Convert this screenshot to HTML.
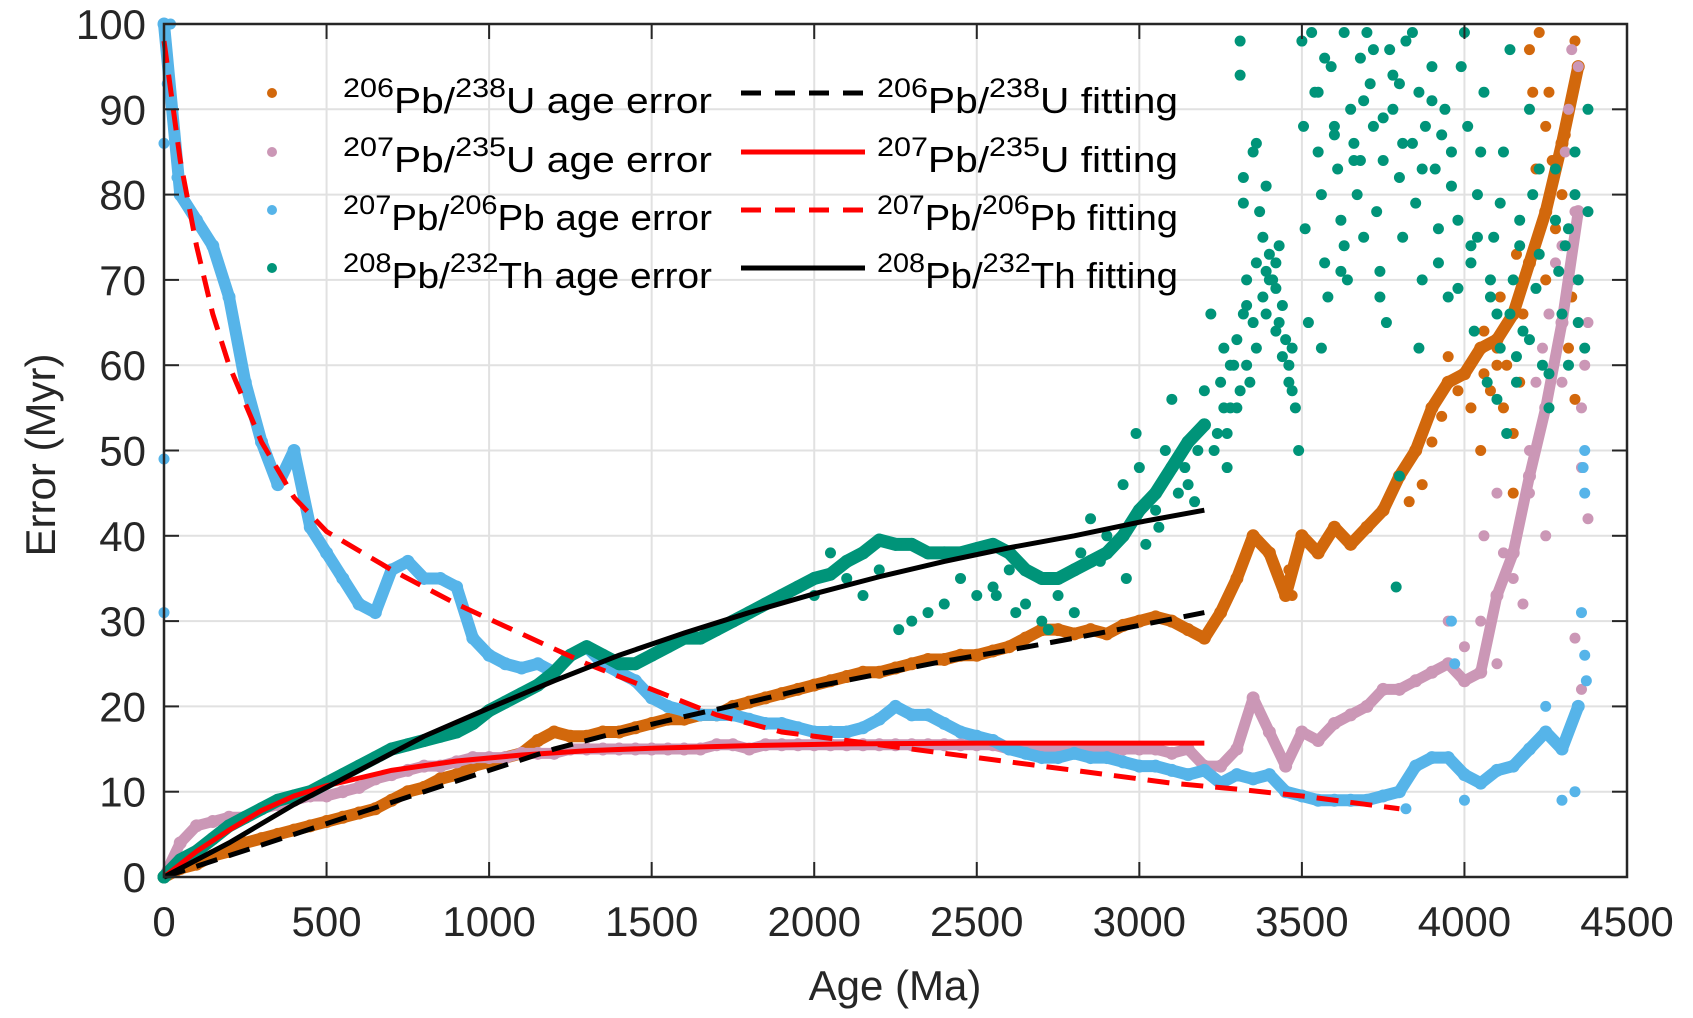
<!DOCTYPE html>
<html><head><meta charset="utf-8"><style>
html,body{margin:0;padding:0;background:#fff;}
svg{display:block;font-family:"Liberation Sans",Arial,sans-serif;}
</style></head><body>
<svg id="chart" width="1693" height="1018" viewBox="0 0 1693 1018" xmlns="http://www.w3.org/2000/svg">
<g id="grid"></g>
<g id="marks"></g>
<g id="axes"></g>
<text x="895" y="1000" font-size="42" text-anchor="middle" fill="#262626">Age (Ma)</text>
<text transform="translate(55,455) rotate(-90)" font-size="42" text-anchor="middle" fill="#262626">Error (Myr)</text>
<g id="legend"></g>
</svg>
<script>
const AGES=[0,50,100,150,200,250,300,350,400,450,500,550,600,650,700,750,800,850,900,950,1000,1050,1100,1150,1200,1250,1300,1350,1400,1450,1500,1550,1600,1650,1700,1750,1800,1850,1900,1950,2000,2050,2100,2150,2200,2250,2300,2350,2400,2450,2500,2550,2600,2650,2700,2750,2800,2850,2900,2950,3000,3050,3100,3150,3200,3250,3300,3350,3400,3450,3500,3550,3600,3650,3700,3750,3800,3850,3900,3950,4000,4050,4100,4150,4200,4250,4300,4350];
const U238=[0,1,1.5,2.5,3,4,4.5,5,5.5,6,6.5,7,7.5,8,9,10,10.5,11.5,12,13,13.5,14,14.5,16,17,16.5,16.5,17,17,17.5,18,18.5,18.5,19,19,20,20.5,21,21.5,22,22.5,23,23.5,24,24,24.5,25,25.5,25.5,26,26,26.5,27,28,29,29,28.5,29,28.5,29.5,30,30.5,30,29,28,31,35,40,38,33,40,38,41,39,41,43,47,50,55,58,59,62,63,66,72,78,86,95];
const U235=[0,4,6,6.5,7,7,8,8.5,9,9.5,9.5,10,10.5,11.5,12,12.5,13,13,13.5,14,14,14,14.5,14.5,14.5,15,15,15,15,15,15,15,15,15,15.5,15.5,15,15.5,15.5,15.5,15.5,15.5,15.5,15.5,15.5,15.5,15.5,15.5,15.5,15.5,15.5,15.5,15,15,15,15,15,15,15,15,15,15,14.5,15,13,13,15,21,17,13,17,16,18,19,20,22,22,23,24,25,23,24,33,38,47,55,65,78];
const PB207=[100,80,77,74,68,58,51,46,50,41,38,35,32,31,36,37,35,35,34,28,26,25,24.5,25,24,26,27,25,24,23,21,20,19.5,19,19,19,18.5,18,18,17.5,17,17,17,17.5,18.5,20,19,19,18,17,16.5,16,15,14.5,14,14,14.5,14,14,13.5,13,13,12.5,12,12.5,11,12,11.5,12,10,9.5,9,9,9,9,9.5,10,13,14,14,12,11,12.5,13,15,17,15,20];
const TH232=[0,2,3,4.5,6,7,8,9,9.5,10,11,12,13,14,15,15.5,16,16.5,17,18,19.5,20.5,21.5,22.5,24,26,27,26,25,25,26,27,28,28,29,30,31,32,33,34,35,35.5,37,38,39.5,39,39,38,38,38,38.5,39,38,36,35,35,36,37,38,40,43,45,48,51,53];
const THX=[3250,3260,3270,3280,3290,3200,3220,3180,3150,3100,3050,3000,2990,2950,2900,2850,2800,2750,2700,2650,2600,2550,2500,2450,2400,2350,2300,2260,2200,2150,2100,2050,2000,3310,3310,3320,3320,3330,3330,3350,3360,3370,3380,3390,3400,3410,3420,3430,3440,3460,3470,3480,3490,3500,3505,3510,3520,3530,3540,3550,3560,3570,3580,3590,3600,3610,3620,3630,3640,3650,3660,3670,3680,3690,3700,3710,3720,3730,3740,3750,3760,3770,3780,3800,3810,3820,3840,3850,3860,3870,3880,3900,3910,3920,3940,3950,3960,3980,4000,4010,4020,4030,4040,4060,4070,4080,4090,4100,4110,4120,4130,4140,4150,4160,4170,4180,4200,4210,4230,4240,4260,4280,4300,4310,4320,4340,4350,4370,4380,4380,3790,3800];
const THY=[58,62,48,55,60,57,66,50,46,56,43,48,52,46,40,42,31,33,30,32,36,34,33,35,32,31,30,29,36,33,35,38,33,98,94,82,79,70,67,85,86,78,75,81,73,70,72,65,67,60,62,55,50,98,88,76,65,99,92,85,80,72,68,95,87,83,77,74,70,90,86,80,96,75,99,93,88,78,71,84,65,97,90,82,75,98,86,79,92,70,88,95,83,76,90,68,85,77,99,88,72,64,80,92,58,68,75,56,62,85,52,97,70,58,77,64,90,80,73,60,55,83,66,74,60,80,70,62,78,90,34,47];
const THX2=[3240,3260,3280,3300,3320,3340,3360,3380,3400,3420,3440,3460,3300,3330,3360,3390,3420,3450,3230,3270,3310,3350,3390,3430,3470,3550,3570,3600,3630,3660,3690,3720,3750,3780,3810,3840,3870,3900,3930,3960,3990,4020,4050,4080,4110,4140,4170,4200,4230,4260,4290,4320,4350,3560,3620,3680,3740,3800,3860,3920,3980,4040,4100,4160,4220,4280,4340,3020,3060,3080,3120,3140,3170,2960,2880,2820,2720,2620,2560];
const THY2=[52,55,60,63,66,58,62,68,70,64,61,58,55,60,72,66,69,63,50,52,57,65,71,74,57,92,96,88,99,84,91,97,89,94,86,99,83,91,87,81,95,74,85,70,79,66,74,63,83,59,71,76,65,62,71,84,68,93,62,72,69,75,66,61,69,77,85,39,41,50,45,48,44,35,37,38,29,31,33];
const UX=[4120,4150,4170,4200,4210,4230,4250,4270,4280,4300,4320,4330,4340,4340,4250,4200,4180,4100,4050,4150,4100,3470,3460,4080,4060,4130,3980,3950,4020,3930,4060,4110,4160,4220,4260,4310,3900,3870,3830];
const UY=[55,52,58,97,92,99,88,84,76,80,62,68,56,98,70,72,66,60,50,45,62,33,36,57,64,60,57,61,55,54,59,68,73,83,92,87,51,46,44];
const PX=[4050,4060,4100,4120,4150,4180,4200,4220,4240,4260,4280,4300,4310,4320,4330,4340,4350,4360,4360,4370,4380,4380,4360,4340,4250,4200,4000,3950,4100,4300,4330];
const PY=[30,40,45,38,35,32,50,58,62,66,72,74,85,90,97,78,95,55,48,60,65,42,22,28,40,45,27,30,25,58,70];
const BX=[4360,4370,4370,4365,4370,4340,4300,4250,3960,3970,4000,3820,0,0,0,10,20,4375,30,40];
const BY=[31,45,50,48,26,10,9,20,30,25,9,8,31,49,86,93,100,23,88,82];
const FIT_U238_X=[0,200,400,600,800,1000,1200,1400,1600,1800,2000,2200,2400,2600,2800,3000,3200];
const FIT_U238_Y=[0,2.5,5,7.5,10,12.5,15,17,18.8,20.5,22.3,23.8,25.3,26.6,28,29.5,31];
const FIT_U235_X=[0,100,200,300,400,500,700,900,1100,1300,1500,1800,2100,2500,3200];
const FIT_U235_Y=[0,3,5.5,7.8,9.5,10.7,12.5,13.6,14.3,14.8,15.1,15.4,15.6,15.7,15.7];
const FIT_PB_X=[0,50,100,150,200,300,400,500,700,900,1100,1300,1500,1700,1900,2100,2300,2500,2700,2900,3100,3300,3500,3800];
const FIT_PB_Y=[98,84,74,66,60,51,44.5,40.5,36,32,28.5,25,22,19,17,16,15,14,13,12,11,10.3,9.5,8];
const FIT_TH_X=[0,200,400,600,800,1000,1200,1400,1600,1800,2000,2200,2400,2600,2800,3000,3200];
const FIT_TH_Y=[0,4,8.5,12.5,16.5,19.8,23,26,28.6,31,33.2,35.2,37,38.6,40,41.6,43];
const XTICKS=[0,500,1000,1500,2000,2500,3000,3500,4000,4500];
const YTICKS=[0,10,20,30,40,50,60,70,80,90,100];

const NS='http://www.w3.org/2000/svg';
const L=164,R=1627,T=24,B=877;
const X=a=>L+a*(R-L)/4500;
const Y=v=>B-v*(B-T)/100;
function mk(tag,attrs,parent){const e=document.createElementNS(NS,tag);for(const k in attrs)e.setAttribute(k,attrs[k]);parent.appendChild(e);return e;}
const grid=document.getElementById('grid'),marks=document.getElementById('marks'),axes=document.getElementById('axes'),legend=document.getElementById('legend');

XTICKS.forEach(t=>{
  const g=mk('line',{x1:X(t),x2:X(t),y1:T,y2:B,stroke:'#e1e1e1','stroke-width':2},grid);
  
  
  const tk=mk('line',{x1:X(t),x2:X(t),y1:B,y2:B-15,stroke:'#262626','stroke-width':2},axes);
  
  
  const tk2=mk('line',{x1:X(t),x2:X(t),y1:T,y2:T+15,stroke:'#262626','stroke-width':2},axes);
  
  
  const lb=mk('text',{x:X(t),y:936,'font-size':42,'text-anchor':'middle',fill:'#262626'},axes);
  lb.textContent=t;
  
  
});
YTICKS.forEach(t=>{
  const g=mk('line',{x1:L,x2:R,y1:Y(t),y2:Y(t),stroke:'#e1e1e1','stroke-width':2},grid);
  
  
  const tk=mk('line',{x1:L,x2:L+15,y1:Y(t),y2:Y(t),stroke:'#262626','stroke-width':2},axes);
  
  
  const tk2=mk('line',{x1:R,x2:R-15,y1:Y(t),y2:Y(t),stroke:'#262626','stroke-width':2},axes);
  
  
  const lb=mk('text',{x:146,y:Y(t)+15,'font-size':42,'text-anchor':'end',fill:'#262626'},axes);
  lb.textContent=t;
  
  
});
const box=mk('rect',{x:L,y:T,width:R-L,height:B-T,fill:'none',stroke:'#262626','stroke-width':2.5},axes);



const DOT=5.5;
function dense(vals,color,name,w){
  const n=Math.min(vals.length,AGES.length);
  const pts=[];for(let i=0;i<n;i++)pts.push(X(AGES[i])+','+Y(vals[i]));
  const pl=mk('polyline',{points:pts.join(' '),fill:'none',stroke:color,'stroke-width':w,'stroke-linejoin':'round','stroke-linecap':'round'},marks);
  
  
  for(let i=0;i<n;i++){
    const c=mk('circle',{cx:X(AGES[i]),cy:Y(vals[i]),r:DOT+1,fill:color},marks);
    
    
  }
}
function scatter(xs,ys,color,name){
  for(let i=0;i<Math.min(xs.length,ys.length);i++){
    const c=mk('circle',{cx:X(xs[i]),cy:Y(ys[i]),r:DOT,fill:color},marks);
    
    
  }
}
function fit(xs,ys,color,dash,name){
  const pts=xs.map((x,i)=>X(x)+','+Y(ys[i])).join(' ');
  const a={points:pts,fill:'none',stroke:color,'stroke-width':5};
  if(dash)a['stroke-dasharray']='22 12';
  const pl=mk('polyline',a,marks);
  
  
}
const C_OR='#d2680c',C_PK='#cb97b6',C_BL='#56b4e9',C_GR='#009479';
dense(U238,C_OR,'pb206-u238',12);scatter(UX,UY,C_OR,'pb206-u238');
dense(U235,C_PK,'pb207-u235',11);scatter(PX,PY,C_PK,'pb207-u235');
dense(PB207,C_BL,'pb207-pb206',12);scatter(BX,BY,C_BL,'pb207-pb206');
dense(TH232,C_GR,'pb208-th232',13);scatter(THX,THY,C_GR,'pb208-th232');scatter(THX2,THY2,C_GR,'pb208-th232');
fit(FIT_U235_X,FIT_U235_Y,'#ff0000',false,'pb207-u235-fit');
fit(FIT_PB_X,FIT_PB_Y,'#ff0000',true,'pb207-pb206-fit');
fit(FIT_U238_X,FIT_U238_Y,'#000000',true,'pb206-u238-fit');
fit(FIT_TH_X,FIT_TH_Y,'#000000',false,'pb208-th232-fit');

const LEG=[
 {a:'206',b:'238',c:'U  ',col:C_OR,lc:'#000',dash:true},
 {a:'207',b:'235',c:'U  ',col:C_PK,lc:'#ff0000',dash:false},
 {a:'207',b:'206',c:'Pb ',col:C_BL,lc:'#ff0000',dash:true},
 {a:'208',b:'232',c:'Th ',col:C_GR,lc:'#000',dash:false}];
const BASE=[113,172,230,288];
function label(x,y,it,tail,len){
  const t=mk('text',{x:x,y:y,'font-size':36,fill:'#000',textLength:len,lengthAdjust:'spacingAndGlyphs','xml:space':'preserve'},legend);
  
  
  const s1=mk('tspan',{'font-size':27,dy:-16},t);s1.textContent=it.a;
  const s2=mk('tspan',{dy:16},t);s2.textContent='Pb/';
  const s3=mk('tspan',{'font-size':27,dy:-16},t);s3.textContent=it.b;
  const s4=mk('tspan',{dy:16},t);s4.textContent=it.c+tail;
}
LEG.forEach((it,i)=>{
  const y=BASE[i];
  const m=mk('circle',{cx:272,cy:y-20,r:5,fill:it.col},legend);
  
  
  label(343,y,it,'age error',369);
  const a={x1:741,x2:865,y1:y-20,y2:y-20,stroke:it.lc,'stroke-width':5};
  if(it.dash)a['stroke-dasharray']='20 14';
  const ln=mk('line',a,legend);
  
  
  label(877,y,it,'fitting',301);
});
</script>
</body></html>
